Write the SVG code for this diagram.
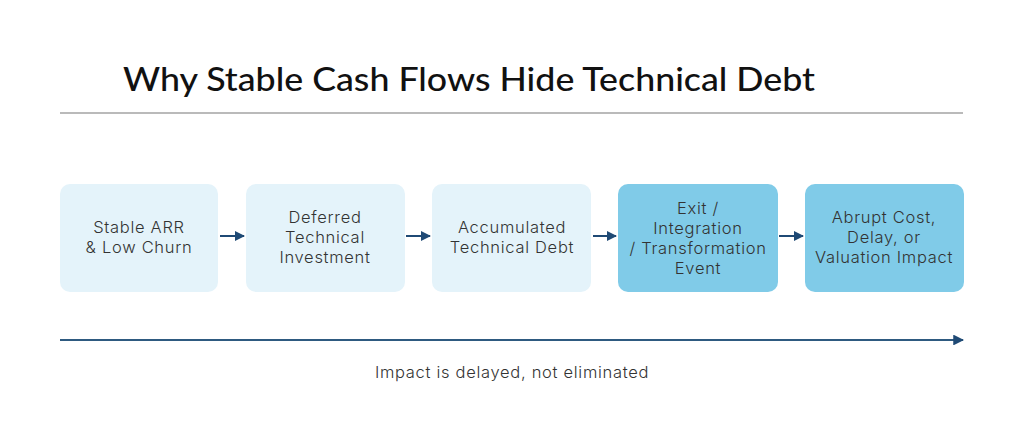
<svg xmlns="http://www.w3.org/2000/svg" width="1024" height="428" viewBox="0 0 1024 428">
<style>
.title{font-family:"Lato","Noto Sans","Liberation Sans",sans-serif;font-size:32px;font-weight:500;fill:#111}
.lbl{font-family:"Inter","Noto Sans","Liberation Sans",sans-serif;font-size:16.5px;font-weight:300;fill:#333;text-anchor:middle;letter-spacing:0.7px}
.light{fill:#e4f3fa}
.dark{fill:#80cbe8}
.conn{stroke:#1f4a75;stroke-width:2;fill:none}
</style>
<defs>
<marker id="ah" viewBox="0 0 10 10" refX="9" refY="5" markerWidth="5" markerHeight="5" orient="auto" markerUnits="strokeWidth">
<path d="M0,0 L10,5 L0,10 z" fill="#1f4a75"/>
</marker>
<marker id="ah2" viewBox="0 0 10 10" refX="9" refY="5" markerWidth="6" markerHeight="6" orient="auto" markerUnits="strokeWidth">
<path d="M0,0 L10,5 L0,10 z" fill="#1f4a75"/>
</marker>
</defs>
<rect width="1024" height="428" fill="#fff"/>
<text class="title" x="123" y="91" textLength="692" lengthAdjust="spacingAndGlyphs">Why Stable Cash Flows Hide Technical Debt</text>
<line x1="60" y1="113" x2="963" y2="113" stroke="#777" stroke-width="1.2"/>
<g id="n1"><rect class="light" x="60" y="184" width="158" height="108" rx="10"/>
<text class="lbl" x="139" y="233">Stable ARR</text><text class="lbl" x="139" y="253">&amp; Low Churn</text></g>
<g id="n2"><rect class="light" x="246" y="184" width="159" height="108" rx="10"/>
<text class="lbl" x="325" y="223">Deferred</text><text class="lbl" x="325" y="243">Technical</text><text class="lbl" x="325" y="263">Investment</text></g>
<g id="n3"><rect class="light" x="432" y="184" width="159" height="108" rx="10"/>
<text class="lbl" x="512" y="233">Accumulated</text><text class="lbl" x="512" y="253">Technical Debt</text></g>
<g id="n4"><rect class="dark" x="618" y="184" width="160" height="108" rx="10"/>
<text class="lbl" x="698" y="213.5">Exit /</text><text class="lbl" x="698" y="233.5">Integration</text><text class="lbl" x="698" y="253.5">/ Transformation</text><text class="lbl" x="698" y="273.5">Event</text></g>
<g id="n5"><rect class="dark" x="805" y="184" width="159" height="108" rx="10"/>
<text class="lbl" x="884" y="223">Abrupt Cost,</text><text class="lbl" x="884" y="243">Delay, or</text><text class="lbl" x="884" y="263">Valuation Impact</text></g>
<g id="connectors">
<line class="conn" x1="220" y1="236" x2="244" y2="236" marker-end="url(#ah)"/>
<line class="conn" x1="406" y1="236" x2="430" y2="236" marker-end="url(#ah)"/>
<line class="conn" x1="593" y1="236" x2="616" y2="236" marker-end="url(#ah)"/>
<line class="conn" x1="779" y1="236" x2="803" y2="236" marker-end="url(#ah)"/>
<line x1="60" y1="340" x2="963" y2="340" stroke="#2e5a80" stroke-width="1.8" marker-end="url(#ah2)"/>
</g>
<text class="lbl" x="512" y="378">Impact is delayed, not eliminated</text>
</svg>
